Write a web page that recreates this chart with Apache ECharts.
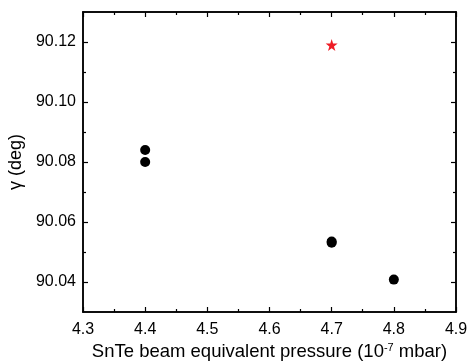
<!DOCTYPE html>
<html><head><meta charset="utf-8">
<script src="https://cdn.jsdelivr.net/npm/echarts@6/dist/echarts.min.js"></script>
<style>html,body{margin:0;padding:0;background:#fff}#c{width:468px;height:364px}</style>
</head><body><div id="c"></div>
<script>
var pressure = [4.4, 4.4, 4.7, 4.7, 4.8];
var gamma = [90.084, 90.080, 90.0535, 90.0531, 90.0408];
var starPressure = [4.7];
var starGamma = [90.119];
var yTickLabels = [90.04, 90.06, 90.08, 90.10, 90.12];
var yMinorTicks = [90.05, 90.07, 90.09, 90.11];
var xTickLabels = [4.3, 4.4, 4.5, 4.6, 4.7, 4.8, 4.9];

var FONT = 'Liberation Sans, Arial, sans-serif';
var lineStyle = {color: '#000', width: 1.5};
var chart = echarts.init(document.getElementById('c'));
var circleData = pressure.map(function(p, i){ return [p, gamma[i]]; });
var starData = starPressure.map(function(p, i){ return [p, starGamma[i]]; });

function yAx(pos, show, ticks, len, labels){
  return {
    type: 'value', position: pos, min: 90.03, max: 90.13,
    axisLine: {show: true, onZero: false, lineStyle: lineStyle},
    axisTick: {show: true, inside: true, length: len, customValues: ticks, lineStyle: {color:'#000', width: 1.2}},
    axisLabel: {show: labels, customValues: ticks, inside: false, margin: 7, color: '#000', fontSize: 16, fontFamily: FONT,
      formatter: function(v){ return v.toFixed(2); }},
    splitLine: {show: false}
  };
}
function xAx(pos, labels, ticks, len){
  return {
    type: 'value', position: pos, min: 4.3, max: 4.9,
    axisLine: {show: true, onZero: false, lineStyle: lineStyle},
    axisTick: {show: true, inside: true, length: len, customValues: ticks, lineStyle: {color:'#000', width: 1.2}},
    axisLabel: {show: labels, customValues: ticks, margin: 10, color: '#000', fontSize: 16, fontFamily: FONT,
      formatter: function(v){ return v.toFixed(1); }},
    splitLine: {show: false}
  };
}
var xMinor = [4.35, 4.45, 4.55, 4.65, 4.75, 4.85];

var xs = [xAx('bottom', true, xTickLabels, 5), xAx('top', false, xTickLabels, 5), xAx('bottom', false, xMinor, 3), xAx('top', false, xMinor, 3)];
xs[0].name = '{a|SnTe beam equivalent pressure (10}{s|-7}{a| mbar)}';
xs[0].nameLocation = 'middle';
xs[0].nameGap = 30;
xs[0].nameTextStyle = {rich: {
  a: {fontSize: 18.5, fontFamily: FONT, color: '#000'},
  s: {fontSize: 11, fontFamily: FONT, color: '#000', verticalAlign: 'top', padding: [0,0,8,0]}
}};
var ys = [yAx('left', true, yTickLabels, 5, true), yAx('right', false, yTickLabels, 5, false), yAx('left', false, yMinorTicks, 3, false), yAx('right', false, yMinorTicks, 3, false)];
ys[0].name = 'γ (deg)';
ys[0].nameLocation = 'middle';
ys[0].nameGap = 54;
ys[0].nameTextStyle = {fontSize: 18, fontFamily: FONT, color: '#000'};

chart.setOption({
  animation: false,
  backgroundColor: '#fff',
  grid: {left: 83, right: 12, top: 12, bottom: 52, containLabel: false, outerBoundsMode: 'none'},
  xAxis: xs,
  yAxis: ys,
  series: [
    {type: 'scatter', xAxisIndex: 0, yAxisIndex: 0, data: circleData, symbol: 'circle', symbolSize: 10, itemStyle: {color: '#000', opacity: 1}},
    {type: 'scatter', xAxisIndex: 0, yAxisIndex: 0, data: starData,
     symbol: 'path://M50,0 L61.2,34.5 L97.6,34.5 L68.2,55.9 L79.4,90.5 L50,69.1 L20.6,90.5 L31.8,55.9 L2.4,34.5 L38.8,34.5 Z',
     symbolSize: 12, itemStyle: {color: '#ee1c25', opacity: 1}}
  ]
});
</script></body></html>
